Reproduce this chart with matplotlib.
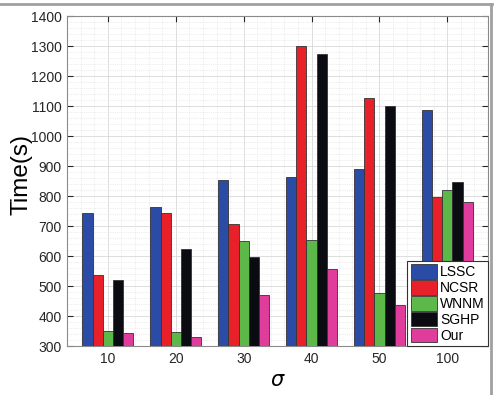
import numpy as np
import matplotlib.pyplot as plt
from matplotlib.ticker import MultipleLocator
from matplotlib.lines import Line2D

plt.rcParams['font.family'] = ['Liberation Sans', 'DejaVu Sans']

sigmas = ["10", "20", "30", "40", "50", "100"]
methods = ["LSSC", "NCSR", "WNNM", "SGHP", "Our"]
lssc = [745, 765, 855, 865, 890, 1088]
ncsr = [538, 745, 708, 1300, 1128, 798]
wnnm = [350, 348, 650, 652, 478, 822]
sghp = [520, 625, 598, 1275, 1100, 848]
our = [345, 330, 470, 558, 438, 780]
colors = ['#2a4ca6', '#e8202a', '#5cb848', '#0b0b12', '#e03c9c']


def main():
  fig = plt.figure(figsize=(4.94, 3.95), dpi=100)
  ax = fig.add_axes([0.136, 0.124, 0.852, 0.835])

  x = np.arange(1, len(sigmas) + 1)
  w = 0.15
  series = [lssc, ncsr, wnnm, sghp, our]
  for i, vals in enumerate(series):
    ax.bar(x + (i - 2) * w, np.array(vals) - 300, width=w, bottom=300,
           color=colors[i], edgecolor='#333333', linewidth=0.6,
           label=methods[i], zorder=3)

  ax.set_xlim(0.4, 6.6)
  ax.set_ylim(300, 1400)
  ax.set_xticks(x)
  ax.set_xticklabels(sigmas)
  ax.yaxis.set_major_locator(MultipleLocator(100))
  ax.yaxis.set_minor_locator(MultipleLocator(20))
  ax.xaxis.set_minor_locator(MultipleLocator(0.2))
  ax.grid(which='major', color='#d8d8d8', linewidth=0.6, zorder=0)
  ax.grid(which='minor', color='#dcdcdc', linewidth=0.5, linestyle=':', zorder=0)
  ax.set_axisbelow(True)
  ax.tick_params(which='both', direction='in', top=True, right=True,
                 labelsize=10, colors='#262626', pad=4)
  ax.tick_params(which='minor', length=0)
  ax.tick_params(which='major', length=4)
  for s in ax.spines.values():
    s.set_color('#8a8a8a')
    s.set_linewidth(0.8)

  ax.set_ylabel("Time(s)", fontsize=17.5)
  ax.yaxis.set_label_coords(-0.083, 0.52)
  ax.set_xlabel(r"$\sigma$", fontsize=15, labelpad=4)

  leg = ax.legend(loc='lower right', bbox_to_anchor=(1, 0), borderaxespad=0,
                  fontsize=10, handlelength=1.9, handleheight=1.25,
                  handletextpad=0.2, labelspacing=0.06, borderpad=0.25,
                  fancybox=False, framealpha=1)
  leg.get_frame().set_edgecolor('#333333')
  leg.get_frame().set_linewidth(0.8)

  # gray frame lines at top and right of the figure
  fig.add_artist(Line2D([0, 0.995], [0.99, 0.99], color='#a0a0a0', lw=2,
                        transform=fig.transFigure))
  fig.add_artist(Line2D([0.993, 0.993], [0, 0.99], color='#a0a0a0', lw=2,
                        transform=fig.transFigure))

  fig.savefig("out.png", dpi=100)


if __name__ == "__main__":
  main()
